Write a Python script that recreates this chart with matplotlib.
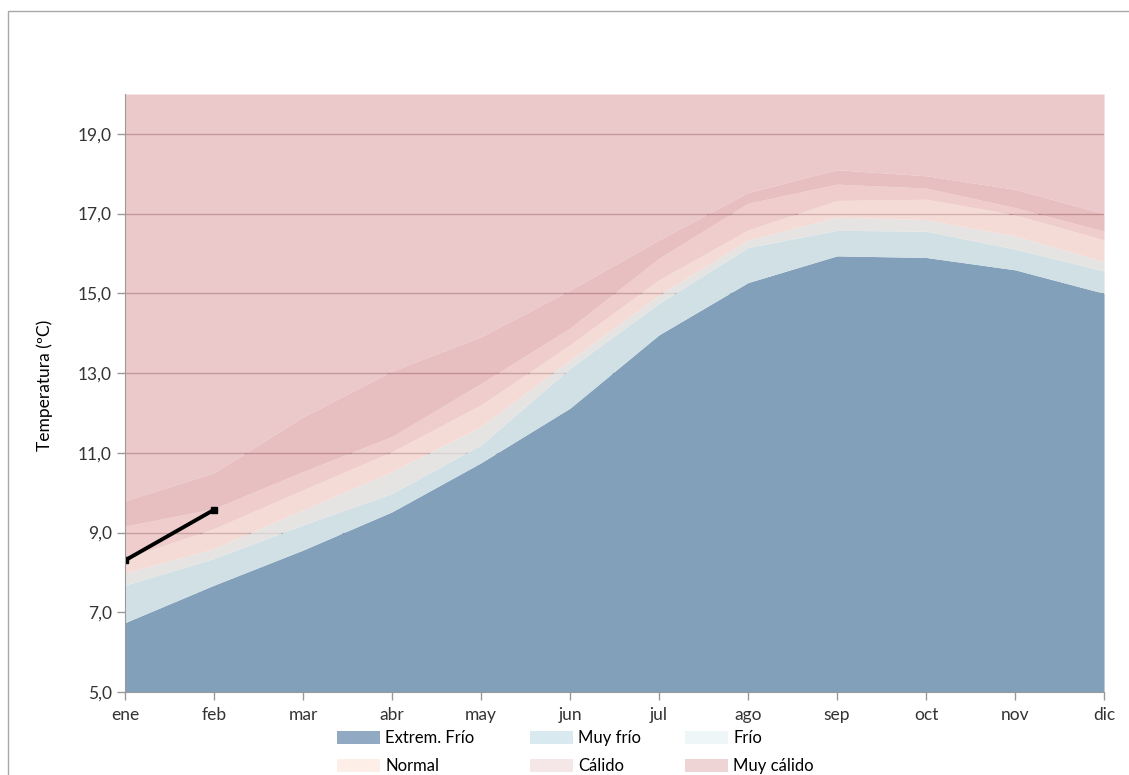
import numpy as np
import matplotlib
matplotlib.use("Agg")
import matplotlib.pyplot as plt
from matplotlib.patches import Patch, Rectangle
from matplotlib.ticker import FuncFormatter, FixedLocator

plt.rcParams['font.family'] = ['Lato', 'DejaVu Sans']

# datos (temperatura media, ºC)
months = ['ene', 'feb', 'mar', 'abr', 'may', 'jun',
          'jul', 'ago', 'sep', 'oct', 'nov', 'dic']
ext_frio = [6.74, 7.68, 8.56, 9.52, 10.75, 12.12, 13.96, 15.27, 15.94, 15.90, 15.59, 15.00]
muy_frio = [7.68, 8.35, 9.19, 9.98, 11.20, 13.12, 14.75, 16.15, 16.58, 16.56, 16.11, 15.56]
frio = [7.98, 8.60, 9.57, 10.53, 11.66, 13.33, 14.96, 16.34, 16.91, 16.85, 16.44, 15.80]
normal = [8.35, 9.10, 10.07, 11.03, 12.20, 13.71, 15.34, 16.59, 17.33, 17.36, 16.97, 16.34]
calido = [9.16, 9.60, 10.53, 11.41, 12.74, 14.13, 15.88, 17.26, 17.74, 17.64, 17.15, 16.56]
muy_calido = [9.80, 10.50, 11.90, 13.05, 13.91, 15.08, 16.34, 17.53, 18.10, 17.95, 17.61, 17.00]
observed = [8.30, 9.57]

legend_labels = ['Extrem. Frío', 'Muy frío', 'Frío', 'Normal', 'Cálido', 'Muy cálido']
y_min, y_max = 5, 20


def under_white(hex_color, alpha):
    # color que, con ese alpha sobre blanco, da hex_color
    c = np.array(matplotlib.colors.to_rgb(hex_color))
    return tuple(np.clip((c - (1 - alpha)) / alpha, 0, 1))


fig = plt.figure(figsize=(11.29, 7.75), dpi=100)
ax = fig.add_axes([0.1107, 0.1071, 0.8672, 0.7716])

x = np.arange(len(months))
bottom = [y_min] * len(months)
bands = [
    (bottom, ext_frio, '#82a0b9', 1.0),
    (ext_frio, muy_frio, '#d0e0e5', 1.0),
    (muy_frio, frio, '#e7e3e3', 0.93),
    (frio, normal, '#f5dbd7', 0.82),
    (normal, calido, '#efcdcd', 0.8),
    (calido, muy_calido, '#e9bfc1', 0.8),
    (muy_calido, [y_max] * len(months), '#ecc9ca', 0.8),
]
for lo, hi, col, a in bands:
    ax.fill_between(x, lo, hi, color=under_white(col, a), alpha=a, lw=0,
                    antialiased=False, zorder=2)

# rejilla por debajo de las áreas
for yv in range(9, 20, 2):
    ax.axhline(yv, color='#3a1a1a', lw=1, zorder=1)

ax.plot(x[:len(observed)], observed, color='black', lw=2.8, marker='s',
        markersize=5, zorder=5)

ax.set_xlim(0, len(months) - 1)
ax.set_ylim(y_min, y_max)
ax.set_xticks(x)
ax.set_xticklabels(months)
ax.yaxis.set_major_locator(FixedLocator(np.arange(5, 20, 2)))
ax.yaxis.set_major_formatter(FuncFormatter(lambda v, p: f'{v:.1f}'.replace('.', ',')))
ax.tick_params(axis='both', colors='#999999', labelcolor='#333333', labelsize=12.5,
               length=6, width=1, direction='out')
ax.tick_params(axis='x', pad=5)
for side in ['top', 'right']:
    ax.spines[side].set_visible(False)
for side in ['left', 'bottom']:
    ax.spines[side].set_color('#999999')
    ax.spines[side].set_zorder(6)

fig.text(0.040, 0.503, 'Temperatura (ºC)', rotation=90, ha='center', va='center',
         fontsize=12.5, color='black')

legend_colors = ['#92a9c3', '#d8eaf0', '#eef6f8', '#fdefe7', '#f5e6e7', '#efd4d5']
# una leyenda por columna (filas: 3 frías arriba, 3 cálidas abajo)
col_x = [337 / 1129, 530 / 1129, 685 / 1129]
for j, cx in enumerate(col_x):
    idx = [j, j + 3]
    handles = [Patch(facecolor=legend_colors[i], edgecolor='none') for i in idx]
    fig.legend(handles, [legend_labels[i] for i in idx], loc='upper left',
               bbox_to_anchor=(cx, 0.058), frameon=False, fontsize=12,
               handlelength=2.6, handleheight=0.85, handletextpad=0.3,
               labelspacing=0.73, borderpad=0, borderaxespad=0)

fig.add_artist(Rectangle((8 / 1129, -0.02), 1.0, (775 - 11) / 775 + 0.02,
                         transform=fig.transFigure, fill=False,
                         edgecolor='#a8a8a8', lw=1))

fig.savefig('out.png', dpi=100)
